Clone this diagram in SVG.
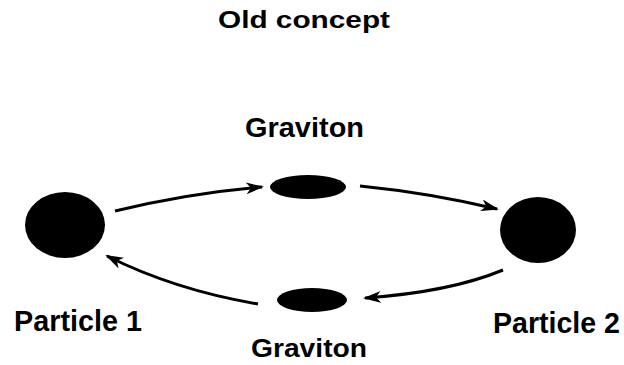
<svg xmlns="http://www.w3.org/2000/svg" width="624" height="365" viewBox="0 0 624 365">
<style>
text{font-family:"Liberation Sans",Arial,sans-serif;font-weight:bold;font-size:27px;fill:#000}
.title{font-size:23px}
.plabel{font-size:29px}
.glow{font-size:25px}
.body{fill:#000}
.conn{fill:none;stroke:#000;stroke-width:3;marker-end:url(#ah)}
</style>
<defs>
<marker id="ah" markerUnits="userSpaceOnUse" markerWidth="20" markerHeight="14" refX="16" refY="6" orient="auto">
<path d="M0,0 L18,6 L0,12 L5,6 z" fill="#000"/>
</marker>
</defs>
<rect width="624" height="365" fill="#fff"/>
<text class="title" x="218" y="28" textLength="172" lengthAdjust="spacingAndGlyphs">Old concept</text>
<g id="particle1">
<ellipse class="body" cx="65" cy="225" rx="40" ry="33"/>
<text class="plabel" x="14" y="331" textLength="128" lengthAdjust="spacingAndGlyphs">Particle 1</text>
</g>
<g id="particle2">
<ellipse class="body" cx="538" cy="230" rx="38" ry="33"/>
<text class="plabel" x="493" y="333" textLength="127" lengthAdjust="spacingAndGlyphs">Particle 2</text>
</g>
<g id="graviton-top">
<ellipse class="body" cx="308" cy="187" rx="38" ry="12"/>
<text x="245" y="137" textLength="119" lengthAdjust="spacingAndGlyphs">Graviton</text>
</g>
<g id="graviton-bottom">
<ellipse class="body" cx="312" cy="300" rx="35" ry="12"/>
<text class="glow" x="251" y="357" textLength="116" lengthAdjust="spacingAndGlyphs">Graviton</text>
</g>
<g id="connectors">
<path class="conn" d="M115,211 Q190,193 262,187"/>
<path class="conn" d="M360,186 Q430,193 497,209"/>
<path class="conn" d="M503,270 Q450,292 365,298"/>
<path class="conn" d="M258,304 Q175,290 107,256"/>
</g>
</svg>
